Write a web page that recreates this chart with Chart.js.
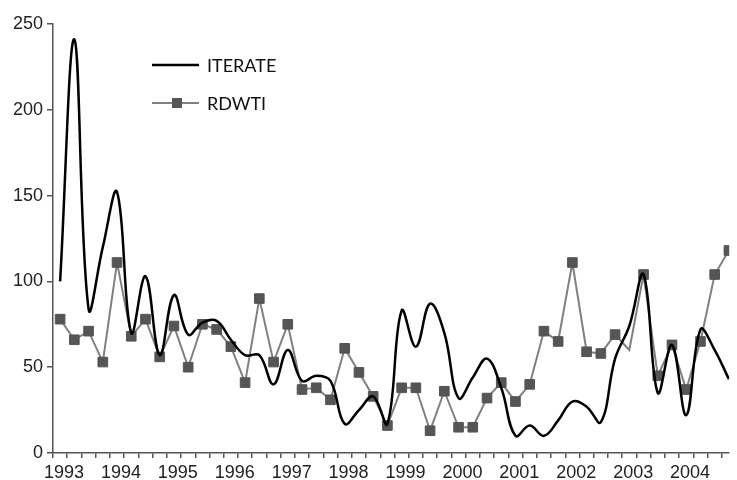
<!DOCTYPE html>
<html>
<head>
<meta charset="utf-8">
<script src="https://cdn.jsdelivr.net/npm/chart.js@4.4.1/dist/chart.umd.min.js"></script>
<style>
  html, body { margin: 0; padding: 0; background: #fff; }
</style>
</head>
<body>
<canvas id="chart" width="737" height="480"></canvas>
<script>
const yearLabels = ['1993', '1994', '1995', '1996', '1997', '1998', '1999', '2000', '2001', '2002', '2003', '2004'];

// quarterly values, 1993 Q1 .. 2004 Q4
const iterate = [100, 241, 84, 120, 152, 70, 103, 57, 92, 69,
  76, 77, 66, 57, 57, 40, 60, 42, 45, 42,
  17, 25, 33, 17, 83, 62, 87, 70, 32, 44,
  55, 38, 10, 16, 10, 19, 30, 27, 18, 55,
  74, 104, 35, 63, 22, 72, 60, 43];

const rdwti = [78, 66, 71, 53, 111, 68, 78, 56, 74, 50,
  75, 72, 62, 41, 90, 53, 75, 37, 38, 31,
  61, 47, 33, 16, 38, 38, 13, 36, 15, 15,
  32, 41, 30, 40, 71, 65, 111, 59, 58, 69,
  60, 104, 45, 63, 37, 65, 104, 118];

const yTicks = [0, 50, 100, 150, 200, 250];

// the reference has one vertex of RDWTI without a marker
const noMarker = [40];

const axisColor = '#555';
const tickFont = { family: "'Liberation Sans', Arial, sans-serif", size: 18 };

// tick marks sit between quarters
const quarterBounds = iterate.map((_, i) => i - 0.5);

const toPoints = arr => arr.map((v, i) => ({ x: i, y: v }));

const insideLegend = {
  id: 'insideLegend',
  afterDraw(chart) {
    const ctx = chart.ctx;
    ctx.save();
    chart.data.datasets.forEach((ds, k) => {
      const y = 65 + k * 38;
      ctx.strokeStyle = ds.borderColor;
      ctx.lineWidth = ds.borderWidth;
      ctx.beginPath();
      ctx.moveTo(152, y);
      ctx.lineTo(199, y);
      ctx.stroke();
      if (ds.pointStyle === 'rect') {
        ctx.fillStyle = ds.pointBackgroundColor;
        ctx.fillRect(172, y - 5, 10, 10);
      }
      ctx.fillStyle = '#111';
      ctx.font = "18px Lato, 'Open Sans', sans-serif";
      ctx.textBaseline = 'middle';
      ctx.textAlign = 'left';
      ctx.fillText(ds.label, 207, y + 1.5);
    });
    ctx.restore();
  }
};

new Chart(document.getElementById('chart'), {
  type: 'line',
  data: {
    datasets: [
      {
        label: 'ITERATE',
        data: toPoints(iterate),
        borderColor: '#000',
        borderWidth: 2.5,
        tension: 0.4,
        pointRadius: 0,
        fill: false
      },
      {
        label: 'RDWTI',
        data: toPoints(rdwti),
        borderColor: '#808080',
        borderWidth: 2,
        tension: 0,
        pointStyle: 'rect',
        pointRadius: c => noMarker.includes(c.dataIndex) ? 0 : 6.8,
        pointBackgroundColor: '#555',
        pointBorderColor: '#555',
        pointBorderWidth: 1,
        fill: false
      }
    ]
  },
  options: {
    responsive: false,
    devicePixelRatio: 1,
    animation: false,
    layout: { padding: { top: 24, right: 0, left: 0, bottom: 0 } },
    plugins: {
      legend: { display: false },
      tooltip: { enabled: false }
    },
    scales: {
      x: {
        type: 'linear',
        min: -0.5,
        max: 47.02,
        afterBuildTicks: axis => { axis.ticks = quarterBounds.map(v => ({ value: v })); },
        afterFit: s => { s.height = 27; },
        ticks: {
          autoSkip: false,
          maxRotation: 0,
          labelOffset: 11,
          padding: 4,
          color: '#222',
          font: tickFont,
          callback: (v, i) => (i % 4 === 0 ? yearLabels[i / 4] : '')
        },
        grid: { drawOnChartArea: false, drawTicks: true, tickLength: 5, color: axisColor, lineWidth: 1.5 },
        border: { color: axisColor, width: 1.5 }
      },
      y: {
        min: 0,
        max: 250,
        afterBuildTicks: axis => { axis.ticks = yTicks.map(v => ({ value: v })); },
        afterFit: s => { s.width = 53; },
        ticks: { padding: 4, color: '#222', font: tickFont },
        grid: { drawOnChartArea: false, drawTicks: true, tickLength: 6, color: axisColor, lineWidth: 1.5 },
        border: { color: axisColor, width: 1.5 }
      }
    }
  },
  plugins: [insideLegend]
});
</script>
</body>
</html>
